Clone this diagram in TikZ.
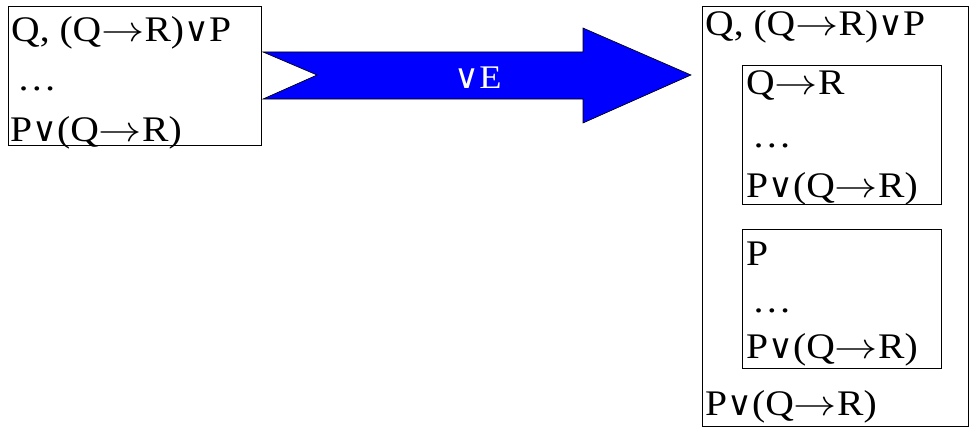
\RequirePackage{fix-cm}
\documentclass[tikz,border=0pt]{standalone}
\usepackage{fontspec}
\usepackage{graphicx}
\setmainfont{Liberation Serif}[FakeStretch=1.1]
\newfontfamily\orfont{DejaVu Sans}
\newcommand{\orsym}{{\orfont\fontsize{34pt}{34pt}\selectfont ∨}}
\newcommand{\impsym}{\scalebox{1.2}[1]{\ensuremath{\rightarrow}}}
\begin{document}
\begin{tikzpicture}[x=1pt,y=-1pt,
  frame/.style={draw=black,line width=1pt},
  formula/.style={anchor=base west,inner sep=0pt,font=\fontsize{36pt}{36pt}\selectfont},
  label/.style={inner sep=0pt,text=white,font=\fontsize{33pt}{33pt}\selectfont}]
\useasboundingbox (0,0) rectangle (972,428);
% left box: premises
\draw[frame] (8,7) rectangle (261,145);
\node[formula] (l1) at (11,42) {Q, (Q\impsym R)\orsym P};
\node[formula] (l2) at (17,90) {…};
\node[formula] (l3) at (10,141) {P\orsym(Q\impsym R)};
% rule arrow
\draw[fill=blue,draw=black,line width=0.6pt]
  (263,52) -- (583,52) -- (583,28) -- (691,75) -- (583,123) -- (583,99)
  -- (263,99) -- (317,75) -- cycle;
\node[label] (rule) at (478,78) {\orsym E};
% right box: the two cases
\draw[frame] (702,7) rectangle (968,426);
\node[formula] (r1) at (705,36) {Q, (Q\impsym R)\orsym P};
\draw[frame] (742,66) rectangle (941,204);
\node[formula] (a1) at (746,95) {Q\impsym R};
\node[formula] (a2) at (752,147) {…};
\node[formula] (a3) at (746,197) {P\orsym(Q\impsym R)};
\draw[frame] (742,229) rectangle (941,368);
\node[formula] (b1) at (746,265) {P};
\node[formula] (b2) at (752,312) {…};
\node[formula] (b3) at (746,358) {P\orsym(Q\impsym R)};
\node[formula] (r2) at (705,415) {P\orsym(Q\impsym R)};
\end{tikzpicture}
\end{document}
